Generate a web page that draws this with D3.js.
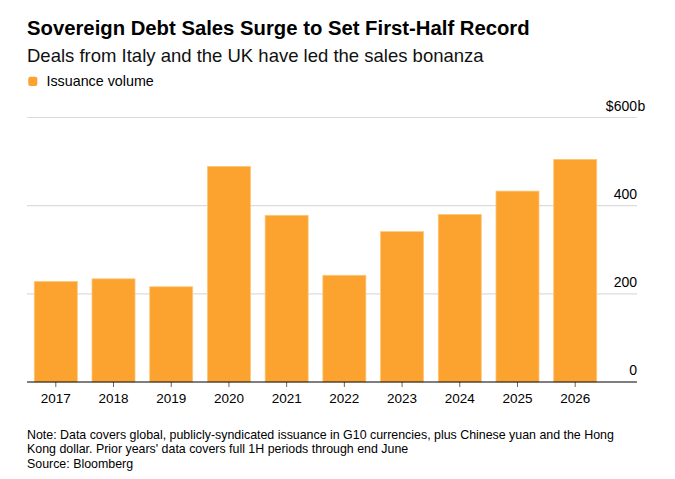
<!DOCTYPE html>
<html>
<head>
<meta charset="utf-8">
<script src="https://cdn.jsdelivr.net/npm/d3@7"></script>
<style>
  body { margin: 0; background: #fff; }
  svg { font-family: "Liberation Sans", Arial, sans-serif; }
</style>
</head>
<body>
<div id="chart"></div>
<script>
// data
var years = ["2017", "2018", "2019", "2020", "2021", "2022", "2023", "2024", "2025", "2026"];
var volume = [228, 234, 216, 489, 378, 242, 341, 380, 433, 505];
var yTicks = [0, 200, 400, 600];
var notes = [
  "Note: Data covers global, publicly-syndicated issuance in G10 currencies, plus Chinese yuan and the Hong",
  "Kong dollar. Prior years' data covers full 1H periods through end June",
  "Source: Bloomberg"
];

var width = 675, height = 479;
var plotLeft = 27, plotRight = 637;
var plotTop = 117.5, plotBottom = 382;

var svg = d3.select("#chart")
  .append("svg")
    .attr("width", width)
    .attr("height", height);

// title + subtitle
svg.append("text")
    .attr("x", 27).attr("y", 35)
    .style("font-size", "20.3px").style("font-weight", "bold")
    .style("fill", "#000")
    .text("Sovereign Debt Sales Surge to Set First-Half Record");
svg.append("text")
    .attr("x", 27).attr("y", 61.5)
    .style("font-size", "18.5px")
    .style("fill", "#111")
    .text("Deals from Italy and the UK have led the sales bonanza");

// legend
svg.append("rect")
    .attr("x", 28.3).attr("y", 76.8)
    .attr("width", 9).attr("height", 9.2)
    .attr("rx", 2)
    .style("fill", "#fba22f");
svg.append("text")
    .attr("x", 46.5).attr("y", 85.5)
    .style("font-size", "14.3px")
    .style("fill", "#000")
    .text("Issuance volume");

// scales
var x = d3.scaleBand()
  .domain(years)
  .range([34.3, 596.7])
  .paddingInner(0.255)
  .paddingOuter(0);

var y = d3.scaleLinear()
  .domain([0, 600])
  .range([plotBottom, plotTop]);

// gridlines
svg.append("g")
  .selectAll("line")
  .data(yTicks.filter(function (d) { return d > 0; }))
  .enter()
  .append("line")
    .attr("x1", plotLeft).attr("x2", plotRight)
    .attr("y1", function (d) { return y(d); })
    .attr("y2", function (d) { return y(d); })
    .style("stroke", "#dcdcdc")
    .style("stroke-width", 1.2);

// y labels: number right aligned on the plot edge, "$" and "b" on the top one
var yLabels = svg.append("g")
  .selectAll("g")
  .data(yTicks)
  .enter()
  .append("g")
    .attr("transform", function (d) { return "translate(" + plotRight + "," + (y(d) - 7) + ")"; });
yLabels.append("text")
    .attr("text-anchor", "end")
    .style("font-size", "14px")
    .style("fill", "#000")
    .text(function (d) { return d === 600 ? "$" + d : d; });
yLabels.filter(function (d) { return d === 600; })
  .append("text")
    .attr("x", 0.5)
    .style("font-size", "14px")
    .style("fill", "#000")
    .text("b");

// bars
svg.append("g")
  .selectAll("rect")
  .data(years)
  .enter()
  .append("rect")
    .attr("x", function (d) { return x(d); })
    .attr("y", function (d, i) { return y(volume[i]); })
    .attr("width", x.bandwidth())
    .attr("height", function (d, i) { return y(0) - y(volume[i]); })
    .style("fill", "#fba22f")
    .style("stroke", "#fcc77a")
    .style("stroke-width", 0.8);

// x axis
var xAxis = svg.append("g")
  .attr("transform", "translate(0," + plotBottom + ")")
  .call(d3.axisBottom(x).tickSize(5).tickSizeOuter(0));
xAxis.select(".domain").remove();
xAxis.selectAll(".tick line").style("stroke", "#666");
xAxis.selectAll(".tick text")
  .attr("y", 11)
  .style("font-family", "'Liberation Sans', Arial, sans-serif")
  .style("font-size", "13.5px")
  .style("fill", "#000");

// baseline
svg.append("line")
    .attr("x1", plotLeft).attr("x2", plotRight)
    .attr("y1", y(0)).attr("y2", y(0))
    .style("stroke", "#000")
    .style("stroke-width", 1.2);

// footnotes
svg.append("g")
  .selectAll("text")
  .data(notes)
  .enter()
  .append("text")
    .attr("x", 27)
    .attr("y", function (d, i) { return 439 + i * 14 + (i === 2 ? 0.5 : 0); })
    .style("font-size", "12.4px")
    .style("fill", "#000")
    .text(function (d) { return d; });
</script>
</body>
</html>
